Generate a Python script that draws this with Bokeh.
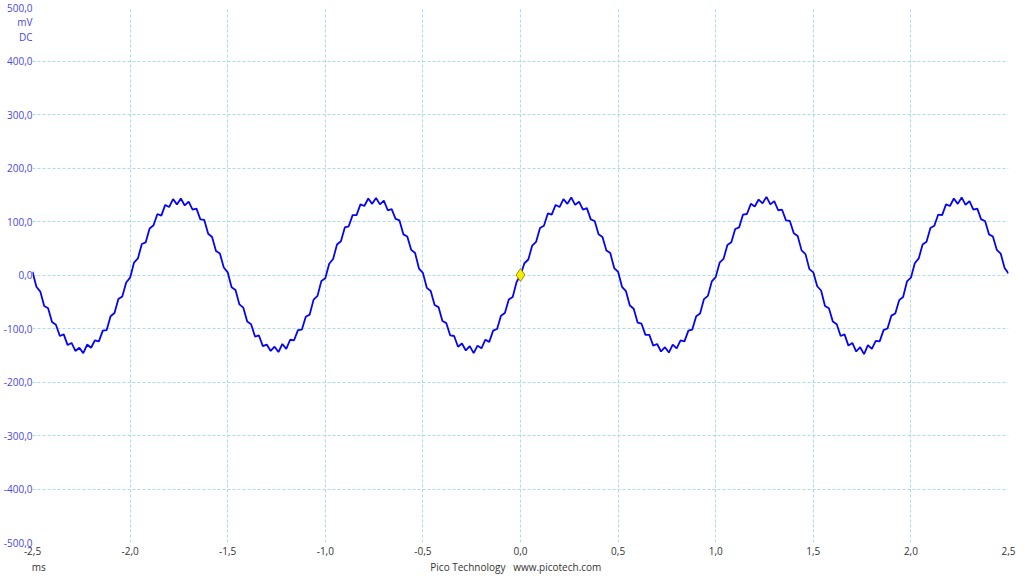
import numpy as np
from bokeh.plotting import figure
from bokeh.models import FixedTicker, CustomJSTickFormatter
from bokeh.embed import file_html
from bokeh.resources import INLINE

# ---- data (time in ms, voltage in mV) ----
t_start, t_end = -2.5, 2.5
voltage_mv = [
    6, -22, -31, -58, -62, -88, -93, -114, -111, -131, -127, -142, -136, -146, -130, -136, -122, -124, -104, -103, -77, -71, -45, -40, -14,
    -5, 23, 31, 58, 61, 87, 93, 114, 111, 131, 127, 142, 132, 143, 130, 137, 122, 124, 104, 103, 77, 71, 45, 40, 14,
    5, -23, -28, -55, -61, -87, -92, -115, -113, -133, -130, -142, -134, -144, -129, -138, -121, -122, -103, -102, -78, -74, -46, -39, -11,
    -6, 21, 30, 57, 63, 89, 91, 112, 112, 132, 129, 143, 133, 144, 132, 139, 121, 123, 105, 102, 76, 72, 47, 41, 12,
    4, -24, -30, -56, -60, -86, -90, -113, -114, -134, -128, -141, -133, -146, -132, -137, -121, -125, -104, -101, -76, -71, -46, -41, -13,
    0, 22, 29, 55, 62, 88, 92, 115, 113, 131, 127, 142, 133, 145, 131, 137, 122, 125, 104, 101, 76, 71, 46, 41, 13,
    6, -22, -30, -57, -63, -89, -91, -112, -112, -132, -129, -143, -135, -145, -130, -137, -122, -124, -104, -102, -77, -72, -45, -39, -12,
    -4, 23, 30, 56, 61, 86, 89, 113, 114, 133, 128, 141, 134, 146, 132, 138, 121, 122, 102, 101, 78, 73, 46, 39, 11,
    5, -21, -29, -58, -62, -87, -92, -114, -111, -132, -127, -143, -135, -148, -131, -138, -123, -124, -103, -100, -76, -72, -47, -41, -12,
    -5, 22, 31, 57, 62, 88, 92, 113, 112, 132, 129, 143, 133, 145, 131, 138, 122, 124, 104, 101, 76, 72, 47, 40, 13,
    3,
]
time_ms = np.linspace(t_start, t_end, len(voltage_mv))

trigger_t = [0.0]
trigger_v = [0.0]

x_ticks = [-2.5, -2.0, -1.5, -1.0, -0.5, 0.0, 0.5, 1.0, 1.5, 2.0, 2.5]
y_ticks = [-500, -400, -300, -200, -100, 0, 100, 200, 300, 400, 500]
# unit captions shown in the y-axis column, just under the top tick
unit_captions = {472: "mV", 444: "DC"}
footer_unit = "ms"
footer_text = "Pico Technology\u00a0\u00a0\u00a0www.picotech.com"

FONT = "Open Sans"
GRID = "#a9dbef"
YCOL = "#4848e0"
XCOL = "#333333"

p = figure(width=1024, height=576, x_range=(t_start, t_end), y_range=(-500, 500),
           output_backend="svg", toolbar_location=None,
           min_border_left=31, min_border_right=16, min_border_top=7, min_border_bottom=30)
p.outline_line_color = None
p.background_fill_color = "white"

xfmt = CustomJSTickFormatter(code="return tick.toFixed(1).replace('.', ',');")
yfmt = CustomJSTickFormatter(
    args=dict(keys=list(unit_captions.keys()), names=list(unit_captions.values())),
    code="""
    const i = keys.indexOf(Math.round(tick));
    if (i >= 0) return names[i];
    return tick.toFixed(1).replace('.', ',');
    """)

for ax in (p.xaxis[0], p.yaxis[0]):
    ax.axis_line_color = None
    ax.major_tick_line_color = None
    ax.minor_tick_line_color = None
    ax.major_tick_out = 0
    ax.major_tick_in = 0
    ax.minor_tick_out = 0
    ax.minor_tick_in = 0
    ax.major_label_text_font = FONT
    ax.major_label_text_font_size = "10px"

p.xaxis.formatter = xfmt
p.yaxis.formatter = yfmt
p.xaxis.ticker = FixedTicker(ticks=x_ticks)
p.yaxis.ticker = FixedTicker(ticks=y_ticks + list(unit_captions.keys()))
p.xgrid.ticker = FixedTicker(ticks=x_ticks)
p.ygrid.ticker = FixedTicker(ticks=y_ticks)
p.yaxis.major_label_text_color = YCOL
p.xaxis.major_label_text_color = XCOL
p.yaxis.major_label_standoff = 0
p.xaxis.major_label_standoff = 4

NB = "\u00a0"
p.xaxis.axis_label = footer_unit + NB * 148 + footer_text + NB * 157
p.xaxis.axis_label_text_font = FONT
p.xaxis.axis_label_text_font_size = "10px"
p.xaxis.axis_label_text_font_style = "normal"
p.xaxis.axis_label_text_color = XCOL
p.xaxis.axis_label_standoff = 2

for g in (p.xgrid[0], p.ygrid[0]):
    g.grid_line_color = GRID
    g.grid_line_dash = "3 2"
    g.grid_line_width = 1

p.line(time_ms, voltage_mv, line_color="#0505f2", line_width=1.8)
p.scatter(trigger_t, trigger_v, marker="diamond", size=13,
          fill_color="#f2ef00", line_color="#a09000", line_width=1)

open("out.html", "w").write(file_html(p, INLINE))
